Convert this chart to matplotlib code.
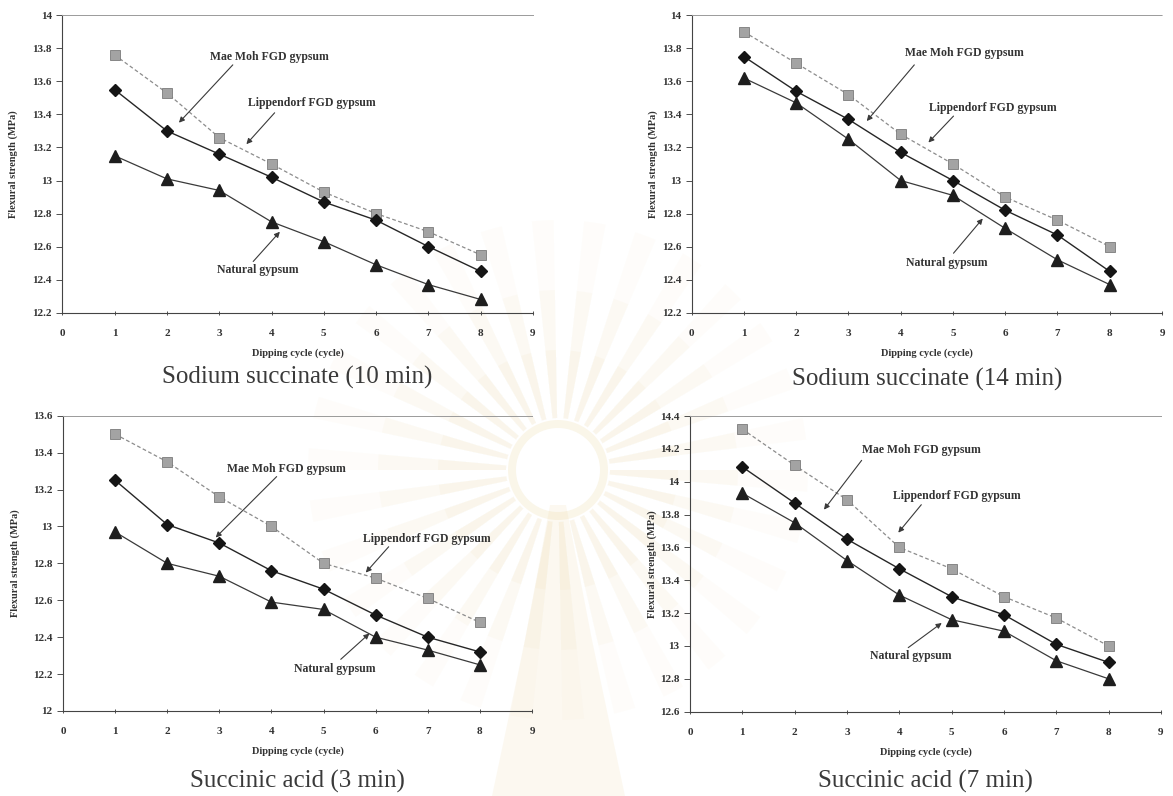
import matplotlib
matplotlib.use('Agg')
import matplotlib.pyplot as plt
from matplotlib.patches import Wedge, Circle, Polygon

plt.rcParams['font.family'] = ['Liberation Serif', 'DejaVu Serif']

cycles = [1, 2, 3, 4, 5, 6, 7, 8]

# flexural strength (MPa) per dipping cycle
ss10_lippendorf = [13.76, 13.53, 13.26, 13.10, 12.93, 12.80, 12.69, 12.55]
ss10_maemoh = [13.55, 13.30, 13.16, 13.02, 12.87, 12.76, 12.60, 12.45]
ss10_natural = [13.15, 13.01, 12.94, 12.75, 12.63, 12.49, 12.37, 12.28]

ss14_lippendorf = [13.90, 13.71, 13.52, 13.28, 13.10, 12.90, 12.76, 12.60]
ss14_maemoh = [13.75, 13.54, 13.37, 13.17, 13.00, 12.82, 12.67, 12.45]
ss14_natural = [13.62, 13.47, 13.25, 13.00, 12.91, 12.71, 12.52, 12.37]

sa3_lippendorf = [13.50, 13.35, 13.16, 13.00, 12.80, 12.72, 12.61, 12.48]
sa3_maemoh = [13.25, 13.01, 12.91, 12.76, 12.66, 12.52, 12.40, 12.32]
sa3_natural = [12.97, 12.80, 12.73, 12.59, 12.55, 12.40, 12.33, 12.25]

sa7_lippendorf = [14.32, 14.10, 13.89, 13.60, 13.47, 13.30, 13.17, 13.00]
sa7_maemoh = [14.09, 13.87, 13.65, 13.47, 13.30, 13.19, 13.01, 12.90]
sa7_natural = [13.93, 13.75, 13.52, 13.31, 13.16, 13.09, 12.91, 12.80]

titles = ['Sodium succinate (10 min)', 'Sodium succinate (14 min)',
          'Succinic acid (3 min)', 'Succinic acid (7 min)']

W, H = 1173, 796


def draw_watermark(fig):
    # faint page emblem behind the panels
    bg = fig.add_axes([0, 0, 1, 1], zorder=-5)
    bg.set_xlim(0, W)
    bg.set_ylim(H, 0)
    bg.axis('off')
    cx, cy = 558, 470
    for i in range(0, 60, 2):
        a0 = i * 6
        for r, al in [(250, 0.05), (180, 0.07), (120, 0.09)]:
            bg.add_patch(Wedge((cx, cy), r, a0, a0 + 5, width=r - 52,
                               facecolor='#ecd7a0', edgecolor='none', alpha=al))
    bg.add_patch(Circle((cx, cy), 50, facecolor='#efdcaa', edgecolor='none', alpha=0.25))
    bg.add_patch(Circle((cx, cy), 42, facecolor='white', edgecolor='none'))
    bg.add_patch(Polygon([(550, 505), (566, 505), (592, 640), (625, 796),
                          (492, 796), (525, 640)], closed=True,
                         facecolor='#ecd29a', edgecolor='none', alpha=0.14))


def draw_panel(ax, lipp, maemoh, natural, ylim, notes, title, px):
    ylab_dx, title_dy = px
    bb = ax.get_position()
    aw, ah = bb.width * W, bb.height * H

    ax.plot(cycles, lipp, color='#8c8c8c', lw=0.9, ls=(0, (3, 2)), marker='s',
            ms=7.5, mfc='#a3a3a3', mec='#7a7a7a', mew=0.6, zorder=3)
    ax.plot(cycles, maemoh, color='#262626', lw=1.0, marker='D',
            ms=6.5, mfc='#151515', mec='#151515', zorder=4)
    ax.plot(cycles, natural, color='#3a3a3a', lw=0.9, marker='^',
            ms=8, mfc='#1e1e1e', mec='#1e1e1e', zorder=4)

    ax.set_xlim(0, 9)
    ax.set_ylim(*ylim)
    ax.set_xticks(range(10))
    n = int(round((ylim[1] - ylim[0]) / 0.2))
    yt = [round(ylim[0] + i * 0.2, 1) for i in range(n + 1)]
    ax.set_yticks(yt)
    ax.set_yticklabels(['%g' % v for v in yt])
    ax.tick_params(axis='x', labelsize=8, length=3, width=0.6,
                   direction='inout', colors='#333333', pad=10)
    ax.tick_params(axis='y', labelsize=8, length=4, width=0.6,
                   direction='out', colors='#333333', pad=3.5)
    for lab in ax.get_xticklabels() + ax.get_yticklabels():
        lab.set_fontweight('bold')

    for s in ['left', 'bottom']:
        ax.spines[s].set_color('#444444')
        ax.spines[s].set_linewidth(0.8)
    ax.spines['right'].set_visible(False)
    ax.spines['top'].set_color('#9a9a9a')
    ax.spines['top'].set_linestyle((0, (1, 1)))
    ax.spines['top'].set_linewidth(0.7)

    ax.text(0.5, -40 / ah, 'Dipping cycle (cycle)', transform=ax.transAxes,
            fontsize=7.5, fontweight='bold', color='#333333',
            ha='center', va='center')
    ax.text(-ylab_dx / aw, 0.5, 'Flexural strength (MPa)', transform=ax.transAxes,
            fontsize=7.5, fontweight='bold', color='#333333', rotation=90,
            ha='center', va='center')

    for text, txy, tail, head in notes:
        ax.text(txy[0], txy[1], text, fontsize=8.5, fontweight='bold',
                color='#333333', ha='center', va='center')
        ax.annotate('', xy=head, xytext=tail,
                    arrowprops=dict(arrowstyle='-|>', color='#3a3a3a', lw=0.8,
                                    mutation_scale=8, shrinkA=0, shrinkB=0))

    ax.text(0.5, -title_dy / ah, title, transform=ax.transAxes, fontsize=18,
            color='#3a3a3a', ha='center', va='center')


fig = plt.figure(figsize=(W / 100, H / 100), dpi=100)
fig.patch.set_facecolor('white')
draw_watermark(fig)

# axes boxes in pixels: left, top, right, bottom
boxes_px = [
    (62.3, 15.3, 533.0, 312.7),
    (691.7, 15.3, 1162.0, 312.7),
    (63.0, 415.7, 532.0, 711.0),
    (690.0, 416.0, 1161.0, 711.7),
]

notes_ss10 = [
    ('Mae Moh FGD gypsum', (3.95, 13.75), (3.26, 13.70), (2.23, 13.35)),
    ('Lippendorf FGD gypsum', (4.77, 13.47), (4.06, 13.41), (3.52, 13.22)),
    ('Natural gypsum', (3.73, 12.46), (3.65, 12.51), (4.16, 12.69)),
]
notes_ss14 = [
    ('Mae Moh FGD gypsum', (5.22, 13.77), (4.26, 13.70), (3.35, 13.36)),
    ('Lippendorf FGD gypsum', (5.76, 13.44), (5.01, 13.39), (4.53, 13.23)),
    ('Natural gypsum', (4.89, 12.50), (5.01, 12.56), (5.57, 12.77)),
]
notes_sa3 = [
    ('Mae Moh FGD gypsum', (4.29, 13.31), (4.10, 13.27), (2.93, 12.94)),
    ('Lippendorf FGD gypsum', (6.99, 12.93), (6.25, 12.89), (5.81, 12.75)),
    ('Natural gypsum', (5.21, 12.23), (5.33, 12.28), (5.88, 12.42)),
]
notes_sa7 = [
    ('Mae Moh FGD gypsum', (4.43, 14.19), (3.28, 14.13), (2.56, 13.83)),
    ('Lippendorf FGD gypsum', (5.09, 13.91), (4.42, 13.86), (3.98, 13.69)),
    ('Natural gypsum', (4.21, 12.94), (4.17, 12.99), (4.81, 13.14)),
]

panels = [
    (ss10_lippendorf, ss10_maemoh, ss10_natural, (12.2, 14.0), notes_ss10, (49, 65)),
    (ss14_lippendorf, ss14_maemoh, ss14_natural, (12.2, 14.0), notes_ss14, (39, 67)),
    (sa3_lippendorf, sa3_maemoh, sa3_natural, (12.0, 13.6), notes_sa3, (48, 70)),
    (sa7_lippendorf, sa7_maemoh, sa7_natural, (12.6, 14.4), notes_sa7, (38, 70)),
]

for (l, t, r, b), (lipp, mm, nat, ylim, notes, px), title in zip(boxes_px, panels, titles):
    ax = fig.add_axes([l / W, 1 - b / H, (r - l) / W, (b - t) / H])
    ax.set_facecolor('none')
    draw_panel(ax, lipp, mm, nat, ylim, notes, title, px)

fig.savefig('out.png', dpi=100, facecolor='white')
